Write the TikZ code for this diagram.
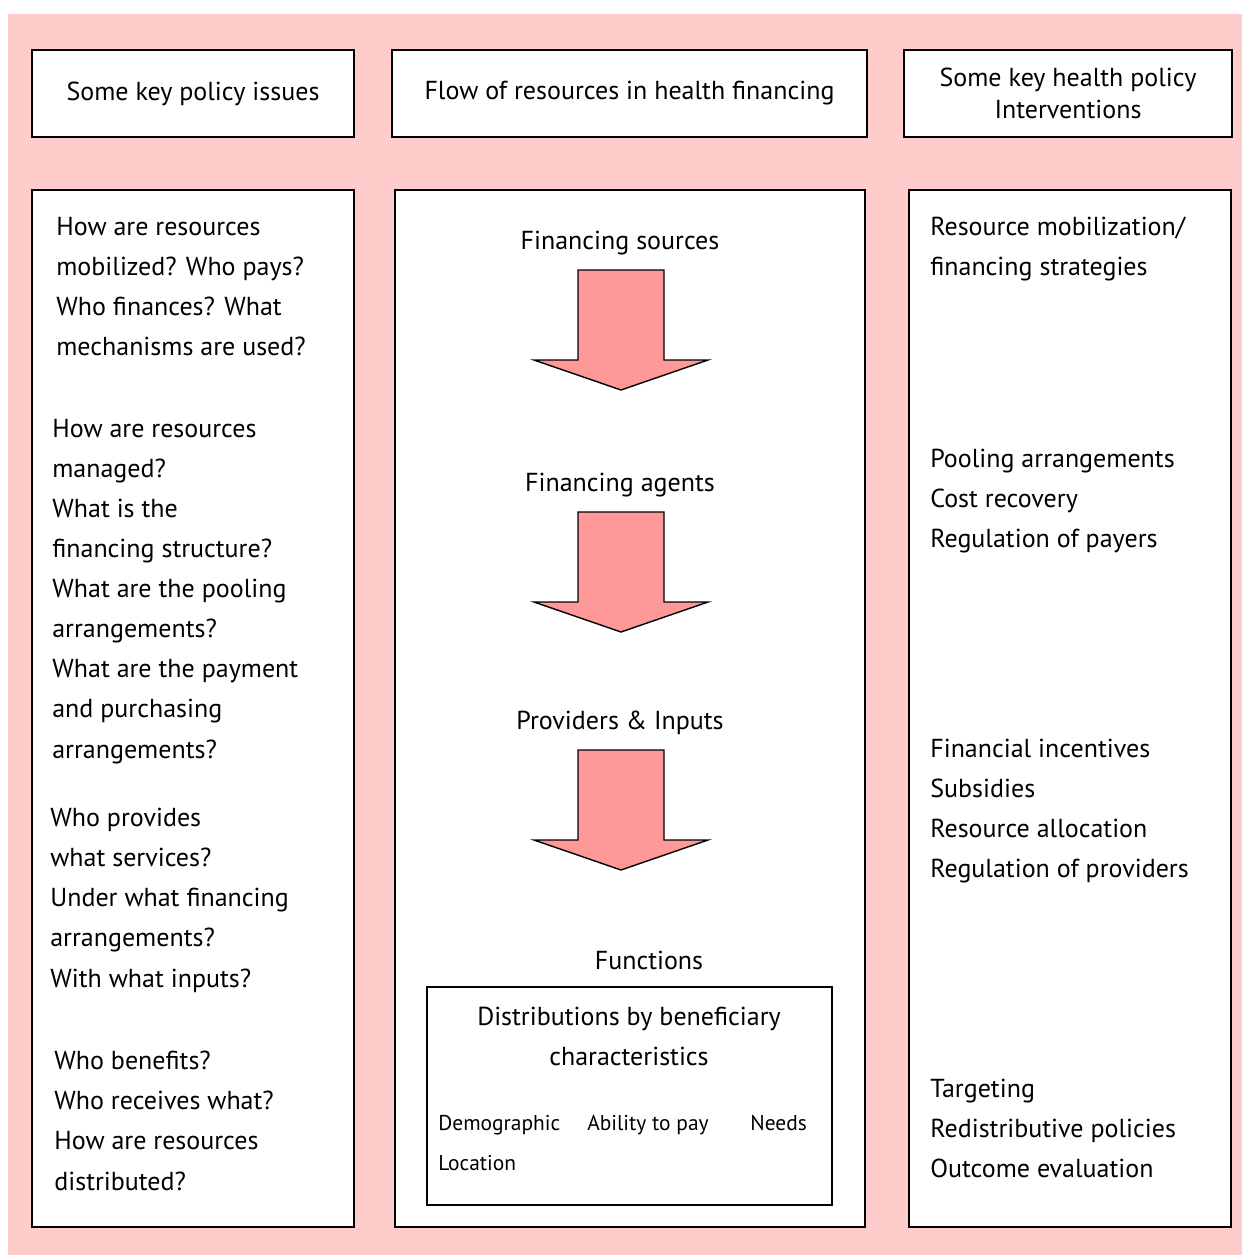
\documentclass[tikz,border=0pt]{standalone}
\usepackage{fontspec}
\setmainfont{PT Sans}
\usetikzlibrary{positioning}
\definecolor{bgPink}{RGB}{255,204,204}
\definecolor{arrowPink}{RGB}{255,153,153}
\tikzset{
  panel/.style   = {draw, fill=white, line width=0.7pt, inner sep=0pt},
  head/.style    = {align=center, font=\fontsize{14.8}{18.2}\selectfont},
  qtext/.style   = {anchor=north west, align=left, inner sep=0pt,
                    font=\fontsize{14.8}{22.8}\selectfont},
  stage/.style   = {font=\fontsize{14.8}{18}\selectfont},
  small/.style   = {anchor=north west, inner sep=0pt,
                    font=\fontsize{12.2}{14}\selectfont},
  pics/downarrow/.style = {code={
    \draw[fill=arrowPink, line width=0.8pt, line join=miter]
      (-43,0) -- (43,0) -- (43,90) -- (87,90) -- (0,120)
      -- (-87,90) -- (-43,90) -- cycle;
  }}
}

\begin{document}
\begin{tikzpicture}[x=0.02cm, y=-0.02cm]
\useasboundingbox (0,0) rectangle (1242,1255);
\fill[bgPink] (8,14) rectangle (1242,1255);

% header row
\node[panel, head, minimum width=6.44cm, minimum height=1.74cm] (hleft) at (193,93.5)
  {Some key policy issues};
\node[panel, head, minimum width=9.5cm, minimum height=1.74cm] (hmid) at (629.5,93.5)
  {Flow of resources in health financing};
\node[panel, head, minimum width=6.56cm, minimum height=1.74cm] (hright) at (1068,93.5)
  {Some key health policy\\Interventions};

% three columns
\node[panel, minimum width=6.44cm, minimum height=20.74cm] (issues) at (193,708.5) {};
\node[panel, minimum width=9.4cm, minimum height=20.74cm] (flow) at (630,708.5) {};
\node[panel, minimum width=6.44cm, minimum height=20.74cm] (actions) at (1070,708.5) {};

% policy questions
\node[qtext] (q1) at (56,217) {How are resources\\mobilized? Who pays?\\Who finances? What\\mechanisms are used?};
\node[qtext] (q2) at (52,419) {How are resources\\managed?\\What is the\\financing structure?\\What are the pooling\\arrangements?\\What are the payment\\and purchasing\\arrangements?};
\node[qtext] (q3) at (50,808) {Who provides\\what services?\\Under what financing\\arrangements?\\With what inputs?};
\node[qtext] (q4) at (54,1051) {Who benefits?\\Who receives what?\\How are resources\\distributed?};

% flow of resources
\node[stage] (src) at (620,243) {Financing sources};
\pic at (621,270) {downarrow};
\node[stage] (agt) at (620,485) {Financing agents};
\pic at (621,512) {downarrow};
\node[stage] (prov) at (620,723) {Providers \& Inputs};
\pic at (621,750) {downarrow};
\node[stage] (fun) at (649,960) {Functions};

\node[draw, line width=1.4pt, minimum width=8.1cm, minimum height=4.36cm] (dist) at (629.5,1096) {};
\node[head, font=\fontsize{14.8}{22.8}\selectfont] (disttitle) at (629,1036)
  {Distributions by beneficiary\\characteristics};
\node[small] (demo) at (438,1115) {Demographic};
\node[small] (pay) at (587,1115) {Ability to pay};
\node[small] (need) at (750,1115) {Needs};
\node[small] (loc) at (438,1155) {Location};

% interventions
\node[qtext] (i1) at (930,217) {Resource mobilization/\\financing strategies};
\node[qtext] (i2) at (930,449) {Pooling arrangements\\Cost recovery\\Regulation of payers};
\node[qtext] (i3) at (930,739) {Financial incentives\\Subsidies\\Resource allocation\\Regulation of providers};
\node[qtext] (i4) at (930,1079) {Targeting\\Redistributive policies\\Outcome evaluation};
\end{tikzpicture}
\end{document}
